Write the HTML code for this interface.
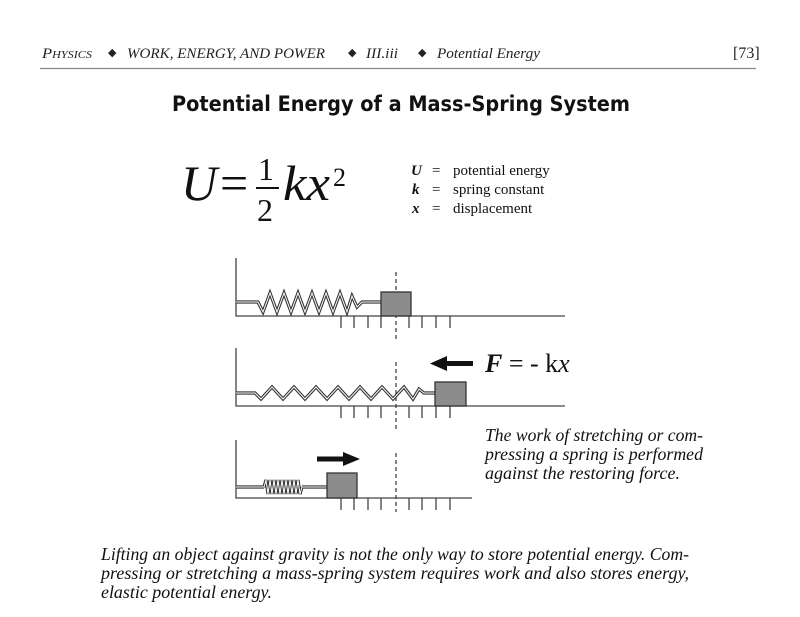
<!DOCTYPE html>
<html><head><meta charset="utf-8"><style>
html,body{margin:0;padding:0;background:#fff}
svg{display:block}
.s{font-family:"Liberation Serif",serif}
</style></head><body>
<svg width="800" height="617" viewBox="0 0 800 617" xmlns="http://www.w3.org/2000/svg">
<!-- header -->
<g class="s" font-style="italic" font-size="15" fill="#222">
<text x="42" y="58" textLength="50" lengthAdjust="spacingAndGlyphs">P<tspan font-size="11">HYSICS</tspan></text>
<text x="108" y="56" font-style="normal" font-size="11">◆</text>
<text x="127" y="58" textLength="198" lengthAdjust="spacingAndGlyphs">WORK, ENERGY, AND POWER</text>
<text x="348" y="56" font-style="normal" font-size="11">◆</text>
<text x="366" y="58" textLength="32" lengthAdjust="spacingAndGlyphs">III.iii</text>
<text x="418" y="56" font-style="normal" font-size="11">◆</text>
<text x="437" y="58" textLength="103" lengthAdjust="spacingAndGlyphs">Potential Energy</text>
<text x="733" y="58" font-style="normal" font-size="16">[73]</text>
</g>
<line x1="40" y1="68.5" x2="756" y2="68.5" stroke="#888" stroke-width="1.2"/>
<!-- title -->
<text x="172" y="111" font-family="DejaVu Sans,sans-serif" font-weight="bold" font-size="21" textLength="458" lengthAdjust="spacingAndGlyphs" fill="#111">Potential Energy of a Mass-Spring System</text>
<!-- formula -->
<g class="s" fill="#111">
<text x="181" y="200" font-style="italic" font-size="50">U</text>
<text x="220" y="200" font-size="50">=</text>
<text x="258" y="180" font-size="32">1</text>
<line x1="256" y1="188" x2="279" y2="188" stroke="#111" stroke-width="2"/>
<text x="257" y="221" font-size="32">2</text>
<text x="283" y="200" font-style="italic" font-size="50" textLength="47" lengthAdjust="spacingAndGlyphs">kx</text>
<text x="333" y="186" font-size="26">2</text>
<g font-size="15">
<text x="411" y="175" font-weight="bold" font-style="italic">U</text><text x="432" y="175">=</text><text x="453" y="175">potential energy</text>
<text x="412" y="194" font-weight="bold" font-style="italic">k</text><text x="432" y="194">=</text><text x="453" y="194">spring constant</text>
<text x="412" y="213" font-weight="bold" font-style="italic">x</text><text x="432" y="213">=</text><text x="453" y="213">displacement</text>
</g>
</g>
<g stroke="#444" stroke-width="1.3" fill="none">
<path d="M236 258V316H565M236 348V406H565M236 440V498H472"/>
<path d="M341 316v12M354 316v12M368 316v12M381 316v12M409 316v12M422 316v12M436 316v12M450 316v12"/>
<path d="M341 406v12M354 406v12M368 406v12M381 406v12M409 406v12M422 406v12M436 406v12M450 406v12"/>
<path d="M341 498v12M354 498v12M368 498v12M381 498v12M409 498v12M422 498v12M436 498v12M450 498v12"/>
</g>
<g stroke="#444" stroke-width="1.3" stroke-dasharray="4,3">
<path d="M396 272V340M396 362V430M396 453V512"/>
</g>
<g fill="none" stroke-linejoin="miter">
<g stroke="#333" stroke-width="3.2">
<polyline points="236,302 258,302 263,312 270,293 277,312 284,293 291,312 298,293 305,312 312,293 319,312 326,293 333,312 340,293 347,312 352,296 357,307 362,302 381,302"/>
<polyline points="236,393 255,393 261,399 272,387 283,399 294,387 305,399 316,387 327,399 338,387 349,399 360,387 371,399 382,387 393,399 404,387 413,399 419,389 424,393 435,393"/>
<path d="M236 487H264 M264 487 l2 -7 l2 14 l2 -14 l2 14 l2 -14 l2 14 l2 -14 l2 14 l2 -14 l2 14 l2 -14 l2 14 l2 -14 l2 14 l2 -14 l2 14 l2 -14 l2 14 l2 -7 M302 487H327"/>
</g>
<g stroke="#fff" stroke-width="1">
<polyline points="236,302 258,302 263,312 270,293 277,312 284,293 291,312 298,293 305,312 312,293 319,312 326,293 333,312 340,293 347,312 352,296 357,307 362,302 381,302"/>
<polyline points="236,393 255,393 261,399 272,387 283,399 294,387 305,399 316,387 327,399 338,387 349,399 360,387 371,399 382,387 393,399 404,387 413,399 419,389 424,393 435,393"/>
<path d="M236 487H264 M264 487 l2 -7 l2 14 l2 -14 l2 14 l2 -14 l2 14 l2 -14 l2 14 l2 -14 l2 14 l2 -14 l2 14 l2 -14 l2 14 l2 -14 l2 14 l2 -14 l2 14 l2 -7 M302 487H327"/>
</g>
</g>
<g fill="#8c8c8c" stroke="#333" stroke-width="1.3">
<rect x="381" y="292" width="30" height="24"/>
<rect x="435" y="382" width="31" height="24"/>
<rect x="327" y="473" width="30" height="25"/>
</g>
<g fill="#111">
<rect x="445" y="361" width="28" height="5"/>
<polygon points="430,363.5 447,356 447,371"/>
<rect x="317" y="456.5" width="28" height="5"/>
<polygon points="360,459 343,452 343,466"/>
</g>
<g class="s" fill="#111">
<text x="485" y="372" font-size="26"><tspan font-weight="bold" font-style="italic">F</tspan> = - k<tspan font-style="italic">x</tspan></text>
<g font-style="italic" font-size="17.5">
<text x="485" y="441" textLength="218" lengthAdjust="spacingAndGlyphs">The work of stretching or com-</text>
<text x="485" y="460" textLength="218" lengthAdjust="spacingAndGlyphs">pressing a spring is performed</text>
<text x="485" y="479" textLength="195" lengthAdjust="spacingAndGlyphs">against the restoring force.</text>
<text x="101" y="560" textLength="588" lengthAdjust="spacingAndGlyphs">Lifting an object against gravity is not the only way to store potential energy.  Com-</text>
<text x="101" y="579" textLength="588" lengthAdjust="spacingAndGlyphs">pressing or stretching  a mass-spring system requires work and also stores energy,</text>
<text x="101" y="598" textLength="171" lengthAdjust="spacingAndGlyphs">elastic potential energy.</text>
</g>
</g>
</svg>
</body></html>
